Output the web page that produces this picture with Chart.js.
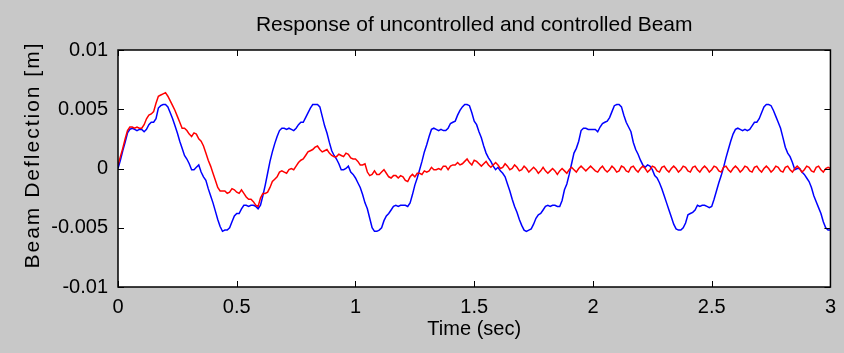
<!DOCTYPE html>
<html>
<head>
<meta charset="utf-8">
<script src="https://cdn.jsdelivr.net/npm/chart.js@4.4.1/dist/chart.umd.min.js"></script>
<style>
    html, body { margin: 0; padding: 0; background: #c8c8c8; }
    #wrap { width: 844px; height: 353px; }
</style>
</head>
<body>
<div id="wrap"><canvas id="beamChart" width="844" height="353"></canvas></div>
<script>
// Beam deflection [m], every 0.01 s from 0 to 3 s
// Uncontrolled beam (blue)
const uncontrolled = [
    0, 0.0007, 0.0015, 0.0022, 0.0030, 0.0033, 0.0034, 0.0033, 0.0032, 0.0033,
    0.0033, 0.0031, 0.0033, 0.0037, 0.0039, 0.0039, 0.0042, 0.0051, 0.0053, 0.0054,
    0.0054, 0.0052, 0.0047, 0.0042, 0.0036, 0.0030, 0.0023, 0.0017, 0.0011, 0.0008,
    0.0004, -0.0001, -0.0001, 0.0001, 0.0003, -0.0003, -0.0007, -0.0010, -0.0017, -0.0023,
    -0.0029, -0.0036, -0.0043, -0.0049, -0.0053, -0.0052, -0.0052, -0.0050, -0.0045, -0.0040,
    -0.0038, -0.0038, -0.0034, -0.0031, -0.0031, -0.0032, -0.0031, -0.0031, -0.0032, -0.0034,
    -0.0031, -0.0023, -0.0014, -0.0004, 0.0006, 0.0014, 0.0021, 0.0027, 0.0032, 0.0034,
    0.0034, 0.0033, 0.0034, 0.0033, 0.0032, 0.0034, 0.0037, 0.0039, 0.0039, 0.0043,
    0.0047, 0.0051, 0.0054, 0.0054, 0.0054, 0.0052, 0.0044, 0.0036, 0.0030, 0.0022,
    0.0015, 0.0011, 0.0008, 0.0004, -0.0001, -0.0001, 0.0000, 0.0002, -0.0003, -0.0005,
    -0.0008, -0.0012, -0.0016, -0.0022, -0.0029, -0.0034, -0.0042, -0.0050, -0.0053, -0.0053,
    -0.0052, -0.0050, -0.0044, -0.0040, -0.0038, -0.0035, -0.0032, -0.0031, -0.0032, -0.0031,
    -0.0031, -0.0031, -0.0032, -0.0029, -0.0022, -0.0014, -0.0008, -0.0001, 0.0006, 0.0014,
    0.0020, 0.0027, 0.0033, 0.0034, 0.0033, 0.0032, 0.0033, 0.0032, 0.0032, 0.0034,
    0.0038, 0.0039, 0.0040, 0.0045, 0.0049, 0.0052, 0.0054, 0.0054, 0.0053, 0.0047,
    0.0040, 0.0037, 0.0031, 0.0026, 0.0019, 0.0013, 0.0009, 0.0006, 0.0002, -0.0001,
    0.0001, -0.0002, -0.0004, -0.0007, -0.0013, -0.0019, -0.0026, -0.0032, -0.0037, -0.0043,
    -0.0048, -0.0052, -0.0053, -0.0052, -0.0051, -0.0047, -0.0042, -0.0039, -0.0038, -0.0035,
    -0.0032, -0.0031, -0.0032, -0.0031, -0.0031, -0.0032, -0.0032, -0.0027, -0.0018, -0.0013,
    -0.0005, 0.0004, 0.0013, 0.0017, 0.0023, 0.0032, 0.0034, 0.0034, 0.0033, 0.0033,
    0.0033, 0.0033, 0.0031, 0.0035, 0.0038, 0.0039, 0.0040, 0.0043, 0.0048, 0.0053,
    0.0054, 0.0054, 0.0052, 0.0045, 0.0039, 0.0035, 0.0031, 0.0022, 0.0016, 0.0012,
    0.0007, 0.0003, 0.0001, 0.0003, 0.0002, -0.0001, -0.0006, -0.0008, -0.0012, -0.0017,
    -0.0023, -0.0029, -0.0035, -0.0041, -0.0047, -0.0051, -0.0052, -0.0052, -0.0050, -0.0046,
    -0.0039, -0.0038, -0.0037, -0.0035, -0.0031, -0.0032, -0.0031, -0.0031, -0.0032, -0.0033,
    -0.0032, -0.0026, -0.0019, -0.0012, -0.0006, 0.0001, 0.0009, 0.0016, 0.0023, 0.0029,
    0.0033, 0.0034, 0.0033, 0.0032, 0.0033, 0.0032, 0.0033, 0.0036, 0.0039, 0.0039,
    0.0042, 0.0047, 0.0052, 0.0054, 0.0054, 0.0053, 0.0049, 0.0044, 0.0039, 0.0034,
    0.0026, 0.0018, 0.0013, 0.0010, 0.0005, -0.0001, 0.0000, 0.0000, -0.0003, -0.0005,
    -0.0008, -0.0011, -0.0016, -0.0023, -0.0028, -0.0033, -0.0038, -0.0045, -0.0050, -0.0052,
    -0.0052
];

// Controlled beam (red)
const controlled = [
    0.0003, 0.0010, 0.0017, 0.0025, 0.0032, 0.0035, 0.0035, 0.0034, 0.0035, 0.0034,
    0.0034, 0.0037, 0.0042, 0.0045, 0.0046, 0.0048, 0.0055, 0.0061, 0.0062, 0.0063,
    0.0064, 0.0061, 0.0057, 0.0053, 0.0049, 0.0044, 0.0039, 0.0034, 0.0034, 0.0032,
    0.0029, 0.0027, 0.0030, 0.0029, 0.0025, 0.0023, 0.0019, 0.0013, 0.0007, 0.0002,
    -0.0004, -0.0010, -0.0016, -0.0019, -0.0019, -0.0019, -0.0021, -0.0020, -0.0017, -0.0018,
    -0.0020, -0.0021, -0.0018, -0.0021, -0.0024, -0.0026, -0.0026, -0.0028, -0.0031, -0.0032,
    -0.0025, -0.0021, -0.0021, -0.0020, -0.0016, -0.0011, -0.0009, -0.0007, -0.0003, -0.0002,
    -0.0003, -0.0004, -0.0001, 0.0000, -0.0001, 0.0002, 0.0005, 0.0007, 0.0008, 0.0011,
    0.0014, 0.0015, 0.0016, 0.0018, 0.0019, 0.0016, 0.0014, 0.0015, 0.0016, 0.0013,
    0.0011, 0.0010, 0.0010, 0.0012, 0.0011, 0.0010, 0.0013, 0.0012, 0.0009, 0.0008,
    0.0008, 0.0006, 0.0003, 0.0003, 0.0004, -0.0003, -0.0006, -0.0005, -0.0002, -0.0005,
    -0.0005, -0.0003, -0.0001, -0.0004, -0.0007, -0.0008, -0.0006, -0.0006, -0.0008, -0.0006,
    -0.0007, -0.0010, -0.0011, -0.0007, -0.0005, -0.0007, -0.0004, -0.0004, -0.0005, -0.0002,
    -0.0003, -0.0002, 0.0001, -0.0001, -0.0001, 0.0000, -0.0001, 0.0002, 0.0002, -0.0001,
    0.0002, 0.0003, 0.0003, 0.0005, 0.0003, 0.0004, 0.0006, 0.0008, 0.0005, 0.0003,
    0.0007, 0.0006, 0.0004, 0.0002, 0.0004, 0.0006, 0.0003, 0.0001, 0.0003, 0.0005,
    0.0003, 0.0000, 0.0001, 0.0004, 0.0002, -0.0001, 0.0000, 0.0003, 0.0001, -0.0002,
    -0.0001, 0.0002, 0.0000, -0.0003, -0.0001, 0.0001, -0.0001, -0.0004, -0.0002, 0.0001,
    -0.0002, -0.0004, -0.0002, 0.0000, -0.0002, -0.0005, -0.0002, 0.0000, -0.0002, -0.0004,
    -0.0001, 0.0001, -0.0001, -0.0003, 0.0000, 0.0002, 0.0000, -0.0002, 0.0000, 0.0002,
    0.0000, -0.0002, -0.0003, 0.0000, 0.0002, -0.0001, -0.0003, -0.0001, 0.0002, 0.0000,
    -0.0003, -0.0002, 0.0002, 0.0001, -0.0002, -0.0003, 0.0001, 0.0002, -0.0001, -0.0003,
    0.0000, 0.0002, 0.0000, -0.0003, -0.0001, 0.0002, 0.0001, -0.0002, -0.0003, 0.0001,
    0.0002, -0.0001, -0.0003, 0.0000, 0.0002, 0.0000, -0.0003, -0.0001, 0.0002, 0.0001,
    -0.0002, -0.0003, 0.0001, 0.0002, -0.0001, -0.0003, 0.0000, 0.0002, 0.0000, -0.0003,
    -0.0001, 0.0002, 0.0001, -0.0002, -0.0003, 0.0001, 0.0002, -0.0001, -0.0003, 0.0000,
    0.0002, 0.0000, -0.0003, -0.0001, 0.0002, 0.0001, -0.0002, -0.0003, 0.0001, 0.0002,
    -0.0001, -0.0003, 0.0000, 0.0002, 0.0000, -0.0003, -0.0001, 0.0002, 0.0001, -0.0002,
    -0.0003, 0.0001, 0.0002, -0.0001, -0.0003, 0.0000, 0.0002, 0.0000, -0.0003, -0.0001,
    0.0002, 0.0001, -0.0002, -0.0003, 0.0001, 0.0002, -0.0001, -0.0003, 0.0000, 0.0001,
    0.0000
];

// time axis: one sample every 0.01 s
const timeSec = uncontrolled.map((_, i) => i / 100);

const xTicks = [0, 0.5, 1, 1.5, 2, 2.5, 3];
const xTickLabels = ['0', '0.5', '1', '1.5', '2', '2.5', '3'];
const yTicks = [-0.01, -0.005, 0, 0.005, 0.01];
const yTickLabels = ['-0.01', '-0.005', '0', '0.005', '0.01'];

const chartTitle = 'Response of uncontrolled and controlled Beam';
const yAxisTitle = 'Beam Deflection [m]';
const fontFamily = '"Liberation Sans", Arial, Helvetica, sans-serif';
const figureGray = '#c8c8c8';

// MATLAB style axes: gray figure, white axes, black box with inward ticks
const matlabAxes = {
    id: 'matlabAxes',
    beforeDraw(chart) {
        const { ctx, chartArea: a } = chart;
        ctx.save();
        ctx.fillStyle = figureGray;
        ctx.fillRect(0, 0, chart.width, chart.height);
        ctx.fillStyle = '#ffffff';
        ctx.fillRect(a.left, a.top, a.right - a.left, a.bottom - a.top);
        ctx.restore();
    },
    afterDatasetsDraw(chart) {
        const { ctx, chartArea: a, scales } = chart;
        const x = scales.x, y = scales.y;
        const tick = 6;
        ctx.save();
        ctx.strokeStyle = '#000';
        ctx.lineWidth = 1.5;
        ctx.strokeRect(a.left, a.top, a.right - a.left, a.bottom - a.top);
        ctx.lineWidth = 1;
        ctx.beginPath();
        x.ticks.forEach(t => {
            const px = Math.round(x.getPixelForValue(t.value)) + 0.5;
            ctx.moveTo(px, a.bottom); ctx.lineTo(px, a.bottom - tick);
            ctx.moveTo(px, a.top); ctx.lineTo(px, a.top + tick);
        });
        y.ticks.forEach(t => {
            const py = Math.round(y.getPixelForValue(t.value)) + 0.5;
            ctx.moveTo(a.left, py); ctx.lineTo(a.left + tick, py);
            ctx.moveTo(a.right, py); ctx.lineTo(a.right - tick, py);
        });
        ctx.stroke();

        // title centred over the axes
        ctx.fillStyle = '#000';
        ctx.font = '21px ' + fontFamily;
        ctx.textAlign = 'center';
        ctx.textBaseline = 'middle';
        ctx.fillText(chartTitle, (a.left + a.right) / 2, 25);

        // y label, a little spaced out like the original
        ctx.translate(33, 155);
        ctx.rotate(-Math.PI / 2);
        ctx.letterSpacing = '2px';
        ctx.fillText(yAxisTitle, 0, 0);
        ctx.restore();
    }
};

document.addEventListener('DOMContentLoaded', function () {
    const ctx = document.getElementById('beamChart').getContext('2d');
    window.beamChart = new Chart(ctx, {
        type: 'line',
        data: {
            labels: timeSec,
            datasets: [{
                label: 'Uncontrolled',
                data: uncontrolled,
                borderColor: '#0000ff',
                borderWidth: 1.5,
                pointRadius: 0,
                tension: 0,
                order: 1
            }, {
                label: 'Controlled',
                data: controlled,
                borderColor: '#ff0000',
                borderWidth: 1.5,
                pointRadius: 0,
                tension: 0,
                order: 0
            }]
        },
        options: {
            responsive: false,
            animation: false,
            devicePixelRatio: 1,
            layout: { padding: { top: 50, right: 13, left: 0, bottom: 0 } },
            plugins: {
                legend: { display: false },
                tooltip: { enabled: false },
                title: { display: false }
            },
            scales: {
                x: {
                    type: 'linear',
                    min: 0,
                    max: 3,
                    afterBuildTicks: scale => { scale.ticks = xTicks.map(v => ({ value: v })); },
                    afterFit: scale => { scale.height = 66; },
                    grid: { display: false, drawTicks: false },
                    border: { display: false },
                    ticks: {
                        color: '#000',
                        padding: 8,
                        maxRotation: 0,
                        font: { family: fontFamily, size: 20 },
                        callback: (val, i) => xTickLabels[i]
                    },
                    title: {
                        display: true,
                        text: 'Time (sec)',
                        color: '#000',
                        font: { family: fontFamily, size: 20 },
                        padding: { top: 0, bottom: 12 }
                    }
                },
                y: {
                    min: -0.01,
                    max: 0.01,
                    afterBuildTicks: scale => { scale.ticks = yTicks.map(v => ({ value: v })); },
                    afterFit: scale => { scale.width = 118; },
                    grid: { display: false, drawTicks: false },
                    border: { display: false },
                    ticks: {
                        color: '#000',
                        padding: 10,
                        font: { family: fontFamily, size: 20 },
                        callback: (val, i) => yTickLabels[i]
                    }
                }
            }
        },
        plugins: [matlabAxes]
    });
});
</script>
</body>
</html>
